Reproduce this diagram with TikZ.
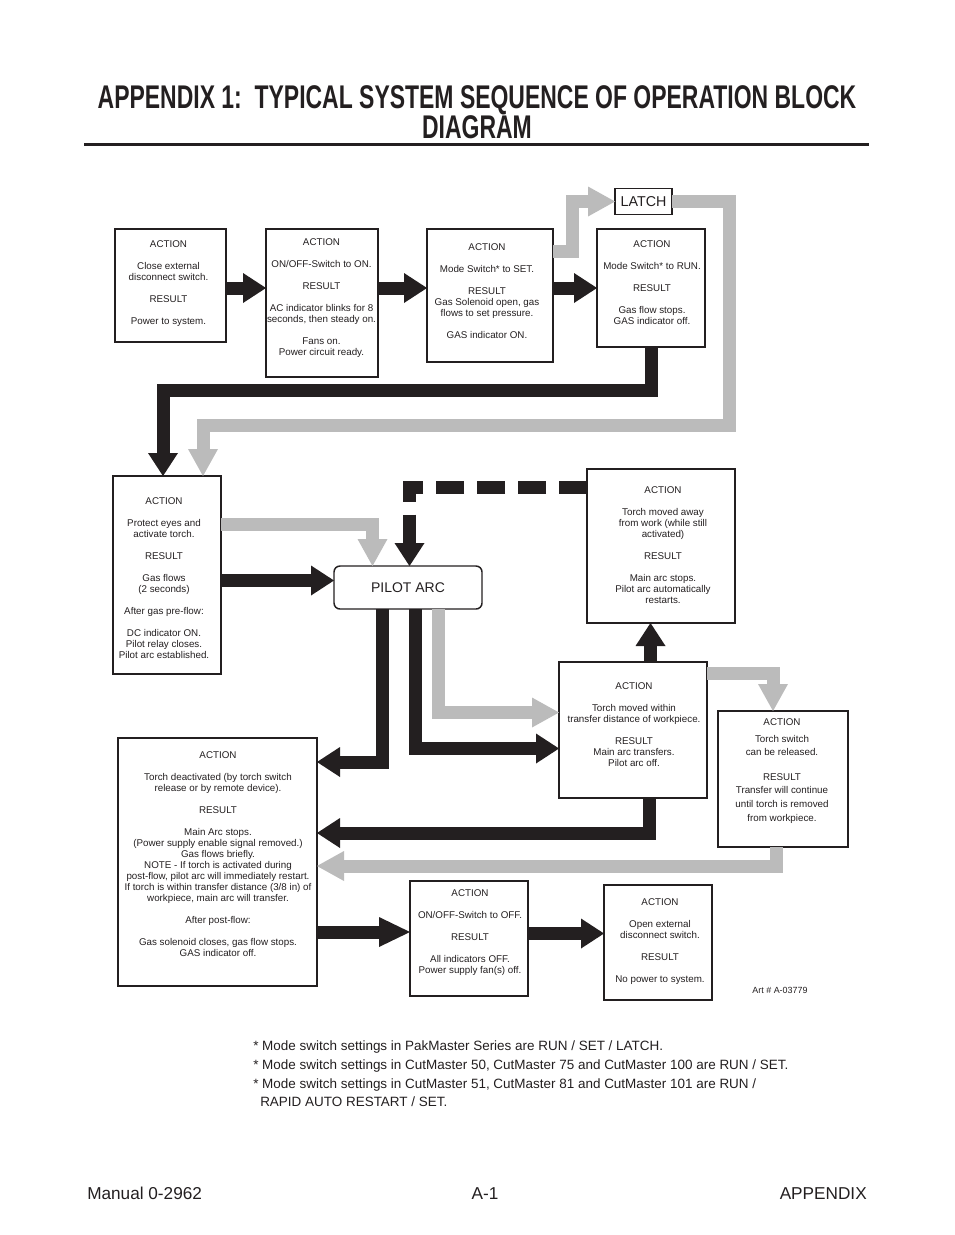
\documentclass[tikz,border=0pt]{standalone}
\usepackage{fontspec}
\setmainfont{Liberation Sans}
\usetikzlibrary{arrows.meta,fit}
\definecolor{ink}{HTML}{231F20}
\definecolor{lgray}{HTML}{BBBBBB}
\tikzset{
  box/.style={draw=ink, line width=0.9pt, inner sep=0pt, outer sep=0pt},
  btxt/.style={font=\fontsize{7.35pt}{8.25pt}\selectfont, align=center, inner sep=0pt, anchor=north, text=ink},
  blk/.style={draw=ink, line width=9.75pt, -{Triangle[length=17.25pt,width=22.5pt,line width=0pt]}},
  gry/.style={draw=lgray, line width=9.75pt, -{Triangle[length=20.25pt,width=22.5pt,line width=0pt]}},
  dsh/.style={blk, dash pattern=on 21pt off 9.75pt},
}
\begin{document}
\begin{tikzpicture}[x=0.75pt,y=-0.75pt]
\useasboundingbox (0,0) rectangle (954,1235);

% title
\node[anchor=base, inner sep=0pt, text=ink, font=\bfseries\fontsize{24.6pt}{30pt}\selectfont] (t1) at (477,108)
  {\scalebox{0.70}[1]{APPENDIX 1:\ \ TYPICAL SYSTEM SEQUENCE OF OPERATION BLOCK}};
\node[anchor=base, inner sep=0pt, text=ink, font=\bfseries\fontsize{24.6pt}{30pt}\selectfont] (t2) at (477,138.5)
  {\scalebox{0.70}[1]{DIAGRAM}};
\draw[ink, line width=2.25pt] (84,144.5) -- (869,144.5);

% boxes
\node[box, fit={(115,229) (226,342)}] (b1) {};
\node[box, fit={(266,229) (378,377)}] (b2) {};
\node[box, fit={(427,229) (553,362)}] (b3) {};
\node[box, fit={(597,229) (705,347)}] (b4) {};
\node[box, minimum width=42.75pt, minimum height=19.5pt, font=\fontsize{10.7pt}{12pt}\selectfont, text=ink] (latch) at (643.5,201.5) {LATCH};
\node[box, fit={(113,476) (221,674)}] (b5) {};
\node[box, line width=1.1pt, rounded corners=4.5pt, minimum width=111pt, minimum height=32.25pt, font=\fontsize{10.5pt}{12pt}\selectfont, text=ink] (pilot) at (408,587.5) {PILOT ARC};
\node[box, fit={(587,469) (735,623)}] (b6) {};
\node[box, fit={(559,662) (707,798)}] (b8) {};
\node[box, fit={(718,711) (848,847)}] (b9) {};
\node[box, fit={(118,738) (317,986)}] (b7) {};
\node[box, fit={(410,881) (528,996)}] (b10) {};
\node[box, fit={(604,885) (712,1000)}] (b11) {};

% box texts
\node[btxt] (b1t) at (168.5,240.5) {ACTION\\[8.25pt]Close external\\disconnect switch.\\[8.25pt]RESULT\\[8.25pt]Power to system.};
\node[btxt] (b2t) at (321.5,238.5) {ACTION\\[8.25pt]ON/OFF-Switch to ON.\\[8.25pt]RESULT\\[8.25pt]AC indicator blinks for 8\\seconds, then steady on.\\[8.25pt]Fans on.\\Power circuit ready.};
\node[btxt] (b3t) at (487,243.5) {ACTION\\[8.25pt]Mode Switch* to SET.\\[8.25pt]RESULT\\Gas Solenoid open, gas\\flows to set pressure.\\[8.25pt]GAS indicator ON.};
\node[btxt] (b4t) at (652,240.5) {ACTION\\[8.25pt]Mode Switch* to RUN.\\[8.25pt]RESULT\\[8.25pt]Gas flow stops.\\GAS indicator off.};
\node[btxt] (b5t) at (164,497.5) {ACTION\\[8.25pt]Protect eyes and\\activate torch.\\[8.25pt]RESULT\\[8.25pt]Gas flows\\(2 seconds)\\[8.25pt]After gas pre-flow:\\[8.25pt]DC indicator ON.\\Pilot relay closes.\\Pilot arc established.};
\node[btxt] (b6t) at (663,486.5) {ACTION\\[8.25pt]Torch moved away\\from work (while still\\activated)\\[8.25pt]RESULT\\[8.25pt]Main arc stops.\\Pilot arc automatically\\restarts.};
\node[btxt] (b8t) at (634,682.5) {ACTION\\[8.25pt]Torch moved within\\transfer distance of workpiece.\\[8.25pt]RESULT\\Main arc transfers.\\Pilot arc off.};
\node[btxt] (b9t) at (782,718.5) {ACTION\\[4.5pt]Torch switch\\[1.5pt]can be released.\\[10.5pt]RESULT\\[1.5pt]Transfer will continue\\[2.25pt]until torch is removed\\[2.25pt]from workpiece.};
\node[btxt] (b7t) at (218,751.5) {ACTION\\[8.25pt]Torch deactivated (by torch switch\\release or by remote device).\\[8.25pt]RESULT\\[8.25pt]Main Arc stops.\\(Power supply enable signal removed.)\\Gas flows briefly.\\NOTE - If torch is activated during\\post-flow, pilot arc will immediately restart.\\If torch is within transfer distance (3/8 in) of\\workpiece, main arc will transfer.\\[8.25pt]After post-flow:\\[8.25pt]Gas solenoid closes, gas flow stops.\\GAS indicator off.};
\node[btxt] (b10t) at (470,889.5) {ACTION\\[8.25pt]ON/OFF-Switch to OFF.\\[8.25pt]RESULT\\[8.25pt]All indicators OFF.\\Power supply fan(s) off.};
\node[btxt] (b11t) at (660,898.5) {ACTION\\[8.25pt]Open external\\disconnect switch.\\[8.25pt]RESULT\\[8.25pt]No power to system.};

\node[inner sep=0pt, text=ink, font=\fontsize{6.7pt}{8pt}\selectfont] (art) at (780,990) {Art \# A-03779};

% helper coordinates
\coordinate (r1) at (0,288);
\coordinate (l1) at (572.5,251);
\coordinate (l2) at (572.5,201.5);
\coordinate (g2) at (729,425);
\coordinate (g3) at (203,425);
\coordinate (k1) at (163,390);
\coordinate (k2) at (0,580.5);
\coordinate (g4) at (372.5,524);
\coordinate (d1) at (409.5,487);
\coordinate (k3) at (382,762);
\coordinate (k4) at (415,748.5);
\coordinate (g5) at (438,712.5);
\coordinate (k5) at (650.5,0);
\coordinate (g6) at (773,673);
\coordinate (k6) at (649.5,833);
\coordinate (g7) at (776,866);
\coordinate (k7) at (0,932);
\coordinate (k8) at (0,933.5);

% connectors
\draw[blk] (b1.east |- r1) -- (b2.west |- r1);
\draw[blk] (b2.east |- r1) -- (b3.west |- r1);
\draw[blk] (b3.east |- r1) -- (b4.west |- r1);
\draw[gry] (b3.east |- l1) -- (l1) -- (l2) -- (latch.west |- l2);
\draw[gry] (latch.east) -- (latch.east -| g2) -- (g2) -- (g3) -- (g3 |- b5.north);
\draw[blk] (b4.south) -- (b4.south |- k1) -- (k1) -- (k1 |- b5.north);
\draw[blk] (b5.east |- k2) -- (pilot.west |- k2);
\draw[gry] (b5.east |- g4) -- (g4) -- (g4 |- pilot.north);
\draw[dsh] (b6.west |- d1) -- (d1) -- (d1 |- pilot.north);
\draw[blk] (pilot.south -| k3) -- (k3) -- (k3 -| b7.east);
\draw[blk] (pilot.south -| k4) -- (k4) -- (k4 -| b8.west);
\draw[gry] (pilot.south -| g5) -- (g5) -- (g5 -| b8.west);
\draw[blk] (b8.north -| k5) -- (b6.south -| k5);
\draw[gry] (b8.east |- g6) -- (g6) -- (g6 |- b9.north);
\draw[blk] (b8.south -| k6) -- (k6) -- (k6 -| b7.east);
\draw[gry] (b9.south -| g7) -- (g7) -- (g7 -| b7.east);
\draw[blk, -{Triangle[length=23.25pt,width=22.5pt,line width=0pt]}] (b7.east |- k7) -- (b10.west |- k7);
\draw[blk] (b10.east |- k8) -- (b11.west |- k8);

% footnotes
\node[anchor=base west, inner sep=0pt, text=ink, font=\fontsize{10.1pt}{12pt}\selectfont] (f1) at (253,1050) {* Mode switch settings in PakMaster Series are RUN / SET / LATCH.};
\node[anchor=base west, inner sep=0pt, text=ink, font=\fontsize{10.1pt}{12pt}\selectfont] (f2) at (253,1069) {* Mode switch settings in CutMaster 50, CutMaster 75 and CutMaster 100 are RUN / SET.};
\node[anchor=base west, inner sep=0pt, text=ink, font=\fontsize{10.1pt}{12pt}\selectfont] (f3) at (253,1088) {* Mode switch settings in CutMaster 51, CutMaster 81 and CutMaster 101 are RUN /};
\node[anchor=base west, inner sep=0pt, text=ink, font=\fontsize{10.1pt}{12pt}\selectfont] (f4) at (260,1106) {RAPID AUTO RESTART / SET.};

% footer
\node[anchor=base west, inner sep=0pt, text=ink, font=\fontsize{12.9pt}{15pt}\selectfont] (m1) at (87,1199) {Manual 0-2962};
\node[anchor=base, inner sep=0pt, text=ink, font=\fontsize{12.9pt}{15pt}\selectfont] (m2) at (485,1199) {A-1};
\node[anchor=base east, inner sep=0pt, text=ink, font=\fontsize{12.9pt}{15pt}\selectfont] (m3) at (867,1199) {APPENDIX};
\end{tikzpicture}
\end{document}
